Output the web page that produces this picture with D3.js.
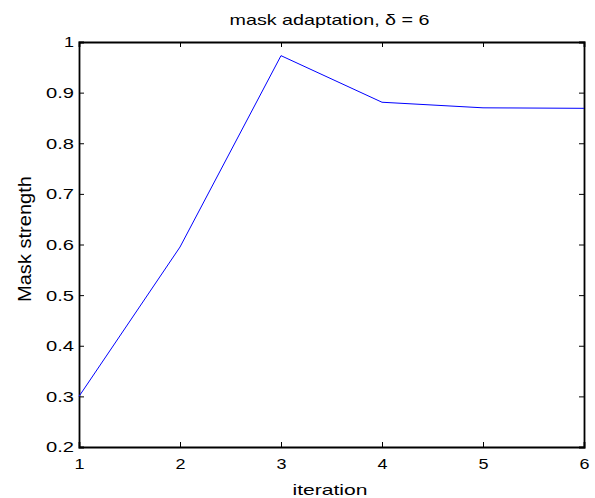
<!DOCTYPE html>
<html><head><meta charset="utf-8">
<script src="https://cdn.jsdelivr.net/npm/d3@7"></script>
<style>body{margin:0;background:#fff}svg{display:block}text{font-family:"Liberation Sans",Arial,sans-serif;}</style>
</head><body>
<svg id="c" width="595" height="498"></svg>
<script>
const iterations = [1, 2, 3, 4, 5, 6];
const maskStrength = [0.300, 0.595, 0.973, 0.881, 0.870, 0.869];
const xTicks = [1, 2, 3, 4, 5, 6];
const yTicks = [0.2, 0.3, 0.4, 0.5, 0.6, 0.7, 0.8, 0.9, 1];
const titleText = "mask adaptation, δ = 6";
const xLabel = "iteration";
const yLabel = "Mask strength";

const svg = d3.select("#c");
const L = 79, R = 584, T = 42, B = 447;
const x = d3.scaleLinear().domain([1, 6]).range([L, R]);
const y = d3.scaleLinear().domain([0.2, 1]).range([B, T]);
const fmt = d => (d === 1 ? "1" : d3.format(".1f")(d));

svg.append("rect").attr("width",595).attr("height",498).attr("fill","#fff");

const gb = svg.append("g").attr("transform",`translate(0,${B})`)
  .call(d3.axisBottom(x).tickValues(xTicks).tickSize(-5).tickFormat(d3.format("d")));
const gt = svg.append("g").attr("transform",`translate(0,${T})`)
  .call(d3.axisTop(x).tickValues(xTicks).tickSize(-5).tickFormat(""));
const gl = svg.append("g").attr("transform",`translate(${L},0)`)
  .call(d3.axisLeft(y).tickValues(yTicks).tickSize(-5).tickFormat(fmt));
const gr = svg.append("g").attr("transform",`translate(${R},0)`)
  .call(d3.axisRight(y).tickValues(yTicks).tickSize(-5).tickFormat(""));
[gb,gt,gl,gr].forEach(g=>{
  g.select(".domain").attr("stroke","#000").attr("stroke-width",1.8);
  g.selectAll(".tick line").attr("stroke","#000").attr("stroke-width",1);
  g.selectAll("text").attr("font-size",15).attr("fill","#000").attr("font-family","Liberation Sans, Arial, sans-serif");
});
gb.selectAll(".tick text").attr("y",22).attr("dy",null)
  .attr("textLength",10).attr("lengthAdjust","spacingAndGlyphs");
gl.selectAll(".tick text").attr("x",-5).attr("dy","0.33em")
  .attr("textLength",d=>d===1?10:28).attr("lengthAdjust","spacingAndGlyphs");

svg.append("path").datum(iterations.map((d,i)=>[d,maskStrength[i]]))
  .attr("fill","none").attr("stroke","#0000ff").attr("stroke-width",1)
  .attr("d", d3.line().x(d=>x(d[0])).y(d=>y(d[1])));

svg.append("text").attr("x",329.5).attr("y",24.5).attr("text-anchor","middle")
  .attr("font-size",15).attr("fill","#000")
  .attr("textLength",200).attr("lengthAdjust","spacingAndGlyphs").text(titleText);

svg.append("text").attr("x",330).attr("y",494.5).attr("text-anchor","middle")
  .attr("font-size",15).attr("fill","#000")
  .attr("textLength",75).attr("lengthAdjust","spacingAndGlyphs").text(xLabel);

svg.append("g").attr("transform",`translate(31,239) rotate(-90) scale(1,1.28)`)
  .append("text").attr("text-anchor","middle").attr("font-size",15).attr("fill","#000")
  .attr("textLength",126).attr("lengthAdjust","spacingAndGlyphs").text(yLabel);
</script>
</body></html>
